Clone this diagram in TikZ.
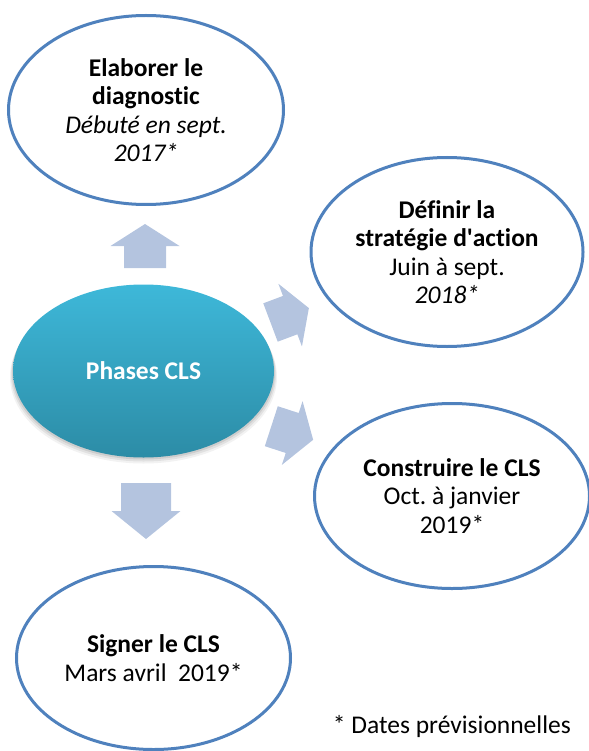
\documentclass[tikz,border=0pt]{standalone}
\usepackage{fontspec}
\setmainfont{Carlito}[Ligatures=NoCommon]
\usetikzlibrary{shapes.geometric}
\frenchspacing
\definecolor{outl}{RGB}{79,129,189}
\definecolor{arrowc}{RGB}{180,196,223}
\definecolor{ctop}{RGB}{62,184,217}
\definecolor{cbot}{RGB}{44,140,166}
\newcommand{\blockarr}[7]{%
  \fill[arrowc, shift={(#1,#2)}, rotate=#3]
    (0,{-#5/2}) -- ({#4-#7},{-#5/2}) -- ({#4-#7},{-#6/2}) -- (#4,0)
    -- ({#4-#7},{#6/2}) -- ({#4-#7},{#5/2}) -- (0,{#5/2}) -- cycle;}
\begin{document}
\begin{tikzpicture}[x=1pt,y=-1pt,
  txt/.style={font=\fontsize{25.5}{28.3}\selectfont\frenchspacing},
  phase/.style={ellipse, draw=outl, line width=3pt, fill=white, inner sep=0pt,
    align=center, txt}]
\useasboundingbox (0,0) rectangle (588,751);
% block arrows
\blockarr{145}{268}{90}{44}{42}{69}{22}
\blockarr{270.5}{322.5}{20.6}{41}{41}{67}{20}
\blockarr{271.3}{426.2}{-18}{44}{42}{67}{22}
\blockarr{146}{483}{-90}{56}{50}{69}{28}
% phase ellipses
\node[phase, minimum width=275, minimum height=189] (diag) at (146,110)
  {\textbf{Elaborer le}\\\textbf{diagnostic}\\\textit{Débuté en sept.}\\\textit{2017*}};
\node[phase, minimum width=272, minimum height=189] (strat) at (447,252)
  {\textbf{Définir la}\\\textbf{stratégie d\textquotesingle action}\\Juin à sept.\\\textit{2018*}};
\node[phase, minimum width=275, minimum height=185] (constr) at (452,496)
  {\textbf{Construire le CLS}\\Oct. à janvier\\2019*};
\node[phase, minimum width=274, minimum height=183] (sign) at (153.5,658)
  {\textbf{Signer le CLS}\\Mars avril\ \ 2019*};
% central ellipse with soft shadow
\foreach \o/\op in {6/0.05,4/0.07,2/0.09}
  \fill[black, opacity=\op] (143.5,{371+\o}) ellipse [x radius={130.5+\o/2}, y radius={86.5}];
\node[ellipse, minimum width=261, minimum height=173, inner sep=0pt,
  top color=ctop, bottom color=cbot, text=white,
  font=\fontsize{25.5}{28.3}\selectfont\bfseries]
  (phases) at (143.5,371) {Phases CLS};
% footnote
\node[anchor=base east, txt, inner sep=0pt] (note) at (571,733) {* Dates prévisionnelles};
\end{tikzpicture}
\end{document}
